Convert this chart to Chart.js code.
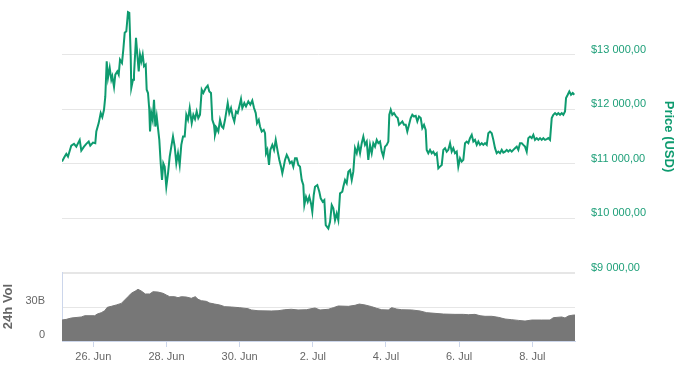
<!DOCTYPE html>
<html>
<head>
<meta charset="utf-8">
<script src="https://cdn.jsdelivr.net/npm/chart.js@4/dist/chart.umd.min.js"></script>
<style>
  html, body { margin: 0; padding: 0; background: #fff; }
  #wrap { position: relative; width: 677px; height: 372px; }
  #priceChart { position: absolute; left: 0; top: 0; }
  #volChart { position: absolute; left: 0; top: 262px; }
</style>
</head>
<body>
<div id="wrap">
  <canvas id="priceChart" width="677" height="280"></canvas>
  <canvas id="volChart" width="677" height="110"></canvas>
</div>
<script>
// x values are days since 25 Jun 00:00
var priceDays = [
  0.144,0.218,0.262,0.308,0.398,0.472,0.535,0.628,0.672,0.745,0.808,0.874,0.917,0.991,1.054,1.082,1.147,1.202,1.246,1.292,
  1.328,1.366,1.401,1.448,1.492,1.519,1.566,1.601,1.656,1.694,1.730,1.784,1.820,1.858,1.902,1.948,1.984,2.022,2.038,2.085,
  2.112,2.167,2.203,2.241,2.276,2.312,2.350,2.386,2.432,2.459,2.495,2.530,2.550,2.585,2.623,2.659,2.695,2.733,2.768,2.804,
  2.842,2.878,2.913,2.951,2.995,3.042,3.088,3.132,3.178,3.225,3.269,3.315,3.361,3.405,3.452,3.498,3.542,3.588,3.635,
  3.690,3.734,3.780,3.826,3.870,3.916,3.963,4.007,4.072,4.127,4.171,4.217,4.253,4.299,4.326,4.373,4.417,4.463,4.510,4.553,
  4.600,4.674,4.717,4.764,4.810,4.854,4.901,4.947,4.991,5.037,5.073,5.128,5.174,5.237,5.292,5.346,5.393,5.440,5.475,5.522,
  5.557,5.604,5.658,5.694,5.721,5.757,5.803,5.839,5.893,5.940,5.986,6.041,6.085,6.131,6.167,6.205,6.240,6.287,6.331,6.377,
  6.424,6.467,6.514,6.560,6.604,6.650,6.697,6.740,6.768,6.814,6.861,6.904,6.951,6.986,7.025,7.060,
  7.123,7.178,7.216,7.271,7.315,7.353,7.424,7.471,7.517,7.561,7.607,7.653,7.697,7.744,7.806,7.834,7.880,7.927,7.971,8.017,
  8.064,8.107,8.154,8.201,8.244,8.291,8.337,8.381,8.427,8.474,8.517,8.564,8.610,8.654,8.700,8.747,8.791,8.837,8.884,8.927,
  8.974,9.020,9.064,9.091,9.130,9.173,9.220,9.275,9.321,9.357,9.403,9.447,9.493,9.540,9.583,9.630,9.676,9.720,9.766,9.813,
  9.857,9.903,9.950,9.993,10.040,10.086,10.113,10.157,10.204,10.250,10.294,10.340,10.387,10.431,10.477,
  10.524,10.568,10.614,10.660,10.704,10.751,10.797,10.841,10.887,10.934,10.977,11.024,11.071,11.114,11.161,11.207,11.251,11.297,11.344,11.388,
  11.434,11.481,11.525,11.571,11.617,11.661,11.708,11.754,11.798,11.844,11.891,11.935,11.981,12.027,12.071,12.117,12.164,12.208,12.254,12.301,
  12.344,12.391,12.437,12.481,12.527,12.574,12.618,12.664,12.711,12.754,12.801,12.847,12.891,12.937,12.984,13.028,13.074,13.121,13.165,13.211,
  13.257,13.301,13.348,13.394,13.438,13.484,13.531,13.575,13.621,13.668,13.711,13.758,13.804,13.848,13.894,13.922,13.968,14.012,14.058,14.105,
  14.148
];
var priceValues = [
  11040,11132,11181,11132,11334,11365,11315,11438,11242,11315,11365,11407,11334,11389,11378,11591,11745,11929,11855,11990,
  12234,12877,12572,12756,12541,12602,12407,12633,12693,12633,12908,12848,13092,13399,13428,13778,13766,12969,12388,12541,
  12633,13307,13000,12693,13000,12877,13000,12785,12816,12357,12296,11990,11591,11929,11806,12173,11683,11867,11653,11438,
  11010,10703,11010,10948,10580,10826,11132,11315,11499,11315,11010,11194,10979,11347,11499,11499,11898,11806,12021,
  11745,11898,11819,11958,11837,11898,12357,12296,12388,12431,12326,12296,11806,11714,11530,11653,11591,11806,11683,11653,
  11806,12113,11929,12021,11867,11775,11958,11929,12050,12186,12021,12113,12050,12142,12082,12160,12021,11929,11745,11806,
  11683,11591,11622,11561,11194,11255,10979,11255,11347,11255,11438,11223,11071,10948,10826,10948,11071,11163,11102,11010,
  11040,10948,11102,11102,10979,10948,10703,10611,10244,10397,10305,10397,10275,10121,10428,10580,
  10611,10488,10367,10305,10336,9877,9816,9937,10244,10183,9968,10091,9968,10459,10488,10580,10703,10643,10856,10887,
  10703,10856,11286,11194,11347,11194,11378,11499,11347,11407,11071,11347,11194,11378,11315,11438,11378,11407,11223,11132,
  11315,11347,11407,11898,11990,11898,11929,11867,11837,11714,11745,11775,11714,11714,11591,11714,11837,11898,11867,11879,
  11775,11867,11837,11653,11714,11622,11255,11194,11255,11194,11223,11163,11194,10918,10948,
  10979,11255,11286,11223,11255,11378,11223,11286,11194,11223,10948,11102,11040,11071,11378,11407,11378,11470,11530,11407,
  11438,11347,11407,11347,11378,11347,11378,11347,11561,11591,11561,11438,11286,11194,11223,11194,11255,11205,11223,11255,
  11223,11255,11223,11255,11286,11315,11255,11378,11378,11347,11315,11223,11470,11499,11470,11530,11438,11470,11438,11470,
  11438,11470,11438,11451,11470,11438,11837,11898,11929,11898,11929,11898,11929,11898,11958,12205,12265,12326,12265,12296,
  12265
];

var volumeDays = [
  0.144,0.262,0.398,0.672,0.765,1.038,1.109,1.218,1.311,1.382,1.492,1.628,1.765,1.858,1.948,2.038,2.148,2.222,2.312,2.421,
  2.541,2.632,2.768,2.905,2.995,3.088,3.225,3.315,3.405,3.542,3.679,3.788,3.862,3.952,4.089,4.182,4.318,4.455,4.592,4.772,
  5.002,5.229,5.319,5.502,5.866,6.049,6.232,6.412,6.596,6.822,7.006,7.060,7.197,7.424,7.561,7.697,7.971,8.154,8.271,8.427,
  8.610,8.747,8.884,9.064,9.157,9.294,9.430,9.704,9.931,10.114,10.341,10.568,10.888,11.115,11.251,11.434,11.571,11.708,11.891,12.071,
  12.255,12.437,12.618,12.801,12.984,13.257,13.484,13.575,13.804,13.894,13.985,14.121,14.167
];
// 24h volume, billions USD
var volumeValues = [
  18.5,19.1,20.3,21.2,22.3,22.3,23.8,25.0,26.7,29.7,30.6,31.8,33.2,36.2,39.1,42.1,44.1,45.6,44.1,41.5,
  41.5,43.5,43.2,42.1,40.6,39.1,39.1,38.2,39.1,38.8,37.7,39.1,36.8,35.6,35.0,33.5,32.6,31.8,30.3,30.0,
  29.4,28.5,27.4,26.7,26.5,26.7,27.6,28.0,27.4,27.6,28.8,29.1,27.4,28.0,29.4,30.9,30.6,31.5,32.6,31.8,
  30.3,28.8,27.6,27.4,29.4,28.2,27.6,27.4,26.5,25.0,24.4,23.8,23.5,23.5,23.2,23.5,22.3,21.8,21.8,20.9,
  19.4,18.8,18.2,17.6,18.5,18.5,18.5,20.6,21.2,20.3,22.1,22.9,22.9
];

var tickDays = [1, 3, 5, 7, 9, 11, 13];
var tickLabels = ["26. Jun", "28. Jun", "30. Jun", "2. Jul", "4. Jul", "6. Jul", "8. Jul"];
var priceTicks = [9000, 10000, 11000, 12000, 13000];
var volumeTicks = [0, 30];

var xMin = 0.144, xMax = 14.167;
var green = "#0e9b6f";
var labelGreen = "#1d9f78";
var gridColor = "#e6e6e6";
var axisBlue = "#ccd6eb";
var fontFam = "'Liberation Sans', Arial, sans-serif";

function fmtPrice(v) {
    return "$" + String(v).replace(/\B(?=(\d{3})+(?!\d))/g, " ") + ",00";
}

function toPoints(xs, ys) {
    var out = [];
    for (var i = 0; i < Math.min(xs.length, ys.length); i++) {
        out.push({x: xs[i], y: ys[i]});
    }
    return out;
}

function noPad(axis) {
    axis.paddingTop = 0;
    axis.paddingBottom = 0;
    axis.paddingLeft = 0;
    axis.paddingRight = 0;
}

var priceChart = new Chart(document.getElementById("priceChart"), {
    type: "line",
    data: {
        datasets: [{
            data: toPoints(priceDays, priceValues),
            borderColor: green,
            borderWidth: 2,
            pointRadius: 0,
            tension: 0,
            fill: false
        }]
    },
    options: {
        responsive: false,
        animation: false,
        devicePixelRatio: 1,
        layout: { padding: { left: 62, top: 0, right: 0, bottom: 7 } },
        plugins: { legend: { display: false }, tooltip: { enabled: false } },
        scales: {
            x: { type: "linear", display: false, min: xMin, max: xMax },
            y: {
                position: "right",
                min: 9000,
                max: 14000,
                afterBuildTicks: function (axis) {
                    axis.ticks = priceTicks.map(function (v) { return {value: v}; });
                },
                afterFit: function (axis) { axis.width = 102; noPad(axis); },
                border: { display: false },
                grid: {
                    color: gridColor,
                    lineWidth: function (c) { return c.tick && c.tick.value === 9000 ? 2 : 1; },
                    drawTicks: false
                },
                ticks: {
                    padding: 16,
                    labelOffset: -5,
                    color: labelGreen,
                    font: { family: fontFam, size: 11 },
                    callback: function (v) { return fmtPrice(v); }
                },
                title: {
                    display: true,
                    text: "Price (USD)",
                    color: green,
                    font: { family: fontFam, size: 13, weight: "bold" },
                    padding: { top: 1, bottom: 0 }
                }
            }
        }
    }
});

var volChart = new Chart(document.getElementById("volChart"), {
    type: "line",
    data: {
        datasets: [{
            data: toPoints(volumeDays, volumeValues),
            borderColor: "#777777",
            backgroundColor: "#777777",
            borderWidth: 1,
            pointRadius: 0,
            tension: 0,
            fill: "origin"
        }]
    },
    options: {
        responsive: false,
        animation: false,
        devicePixelRatio: 1,
        layout: { padding: { left: 0, top: 10, right: 102, bottom: 0 } },
        plugins: { legend: { display: false }, tooltip: { enabled: false } },
        scales: {
            x: {
                type: "linear",
                min: xMin,
                max: xMax,
                afterBuildTicks: function (axis) {
                    axis.ticks = tickDays.map(function (v) { return {value: v}; });
                },
                afterFit: function (axis) { axis.height = 31; noPad(axis); },
                border: { display: true, color: axisBlue, width: 1 },
                grid: {
                    drawOnChartArea: false,
                    drawTicks: true,
                    tickLength: 6,
                    tickColor: axisBlue
                },
                ticks: {
                    padding: 3,
                    maxRotation: 0,
                    autoSkip: false,
                    color: "#666666",
                    font: { family: fontFam, size: 11 },
                    callback: function (v, i) { return tickLabels[i]; }
                }
            },
            y: {
                position: "left",
                min: 0,
                max: 60.9,
                afterBuildTicks: function (axis) {
                    axis.ticks = volumeTicks.map(function (v) { return {value: v}; });
                },
                afterFit: function (axis) { axis.width = 62; noPad(axis); },
                border: { display: true, color: axisBlue, width: 1 },
                grid: {
                    color: function (c) { return c.tick && c.tick.value === 0 ? "rgba(0,0,0,0)" : gridColor; },
                    drawTicks: false
                },
                ticks: {
                    padding: 17,
                    labelOffset: -6,
                    color: "#666666",
                    font: { family: fontFam, size: 11 },
                    callback: function (v) { return v === 0 ? "0" : v + "B"; }
                },
                title: {
                    display: true,
                    text: "24h Vol",
                    color: "#666666",
                    font: { family: fontFam, size: 13, weight: "bold" },
                    padding: { top: 1, bottom: 0 }
                }
            }
        }
    }
});
</script>
</body>
</html>
